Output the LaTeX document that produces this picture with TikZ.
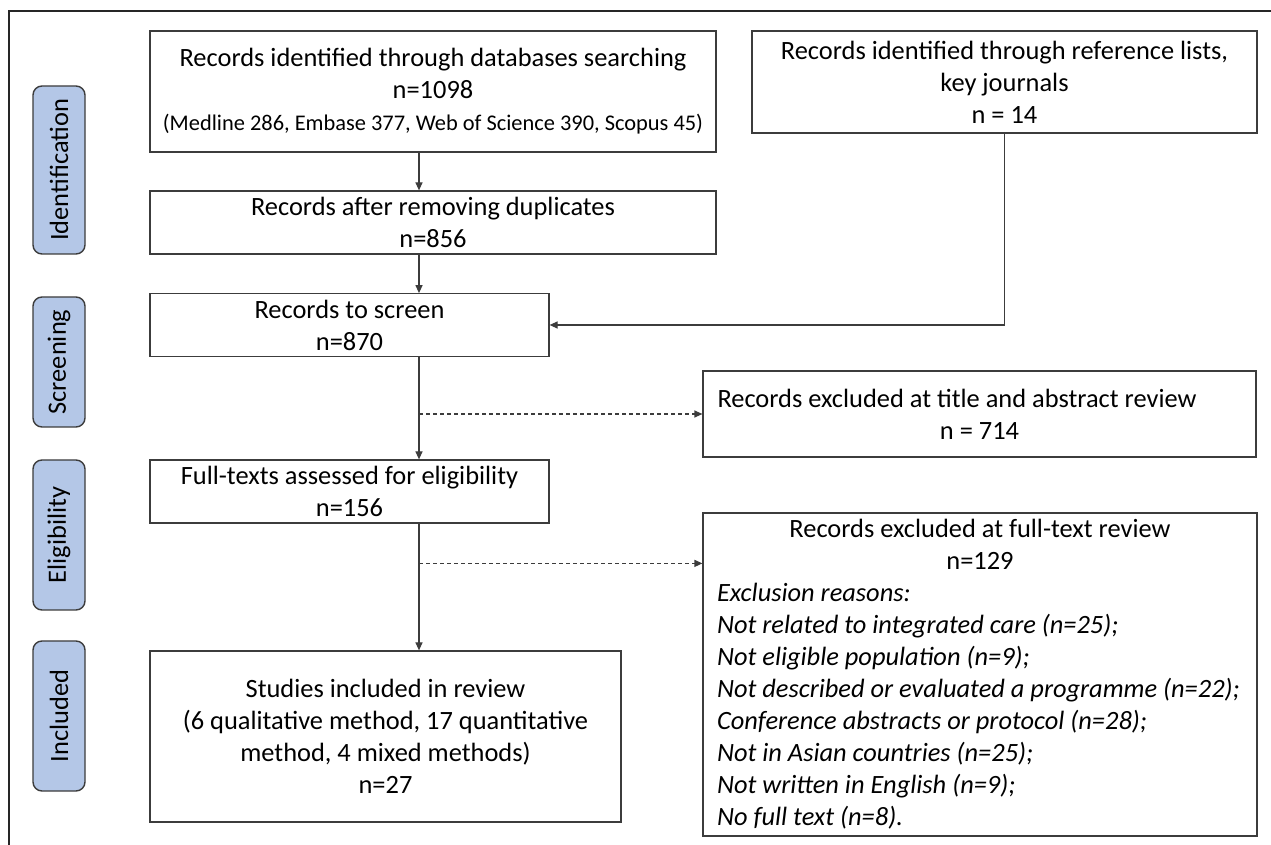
\documentclass[tikz,border=0pt]{standalone}
\usepackage{fontspec}
\setmainfont{Carlito}
\usetikzlibrary{arrows.meta}
\definecolor{stagefill}{HTML}{B4C7E7}
\definecolor{edgegray}{HTML}{3C3C3C}

\begin{document}
\begin{tikzpicture}[x=0.5pt,y=-0.5pt,
  box/.style={draw=edgegray, line width=0.6pt, align=center, inner sep=3pt,
    font=\fontsize{13.2}{16}\selectfont},
  stage/.style={draw=edgegray, line width=0.7pt, fill=stagefill, rounded corners=4.5pt,
    rotate=90, minimum height=26pt, inner sep=0pt, font=\fontsize{13.2}{16}\selectfont},
  flow/.style={draw=edgegray, line width=0.6pt, -{Triangle[length=4pt,width=3.5pt]}},
  skip/.style={flow, dash pattern=on 2pt off 1.5pt}]
\useasboundingbox (0,0) rectangle (1271,845);
\draw[line width=0.8pt, black!85] (9,845) -- (9,11) -- (1271,11);

\node[stage, minimum width=84pt] (identif) at (59,170) {Identification};
\node[stage, minimum width=65pt] (screening) at (59,362) {Screening};
\node[stage, minimum width=75pt] (eligib) at (59,535) {Eligibility};
\node[stage, minimum width=75pt] (incl) at (59,716) {Included};

\node[box, minimum width=283pt, minimum height=60.5pt] (dbsearch) at (433,91.5)
  {Records identified through databases searching\\ n=1098\\
   {\fontsize{11.2}{14}\selectfont (Medline 286, Embase 377, Web of Science 390, Scopus 45)}};
\node[box, minimum width=252.5pt, minimum height=51pt] (refsearch) at (1004.5,82)
  {Records identified through reference lists,\\ key journals\\ n = 14};
\node[box, minimum width=283pt, minimum height=31.5pt] (dedup) at (433,222.5)
  {Records after removing duplicates\\ n=856};
\node[box, minimum width=199.5pt, minimum height=28pt] (screen) at (349.5,325)
  {Records to screen\\ n=870};
\node[box, minimum width=276.5pt, minimum height=43pt, align=left,
  inner xsep=7pt] (absexcl) at (979.5,414)
  {Records excluded at title and abstract review\\ \makebox[262pt]{n = 714}};
\node[box, minimum width=199.5pt, minimum height=31.5pt] (fulltext) at (349.5,491.5)
  {Full-texts assessed for eligibility\\ n=156};
\node[box, minimum width=277pt, minimum height=161.5pt, align=left,
  inner xsep=7pt, inner ysep=2pt] (ftexcl) at (980,674.5)
  {\makebox[263pt]{Records excluded at full-text review}\\
   \makebox[263pt]{n=129}\\
   \textit{Exclusion reasons:}\\
   \textit{Not related to integrated care (n=25);}\\
   \textit{Not eligible population (n=9);}\\
   \textit{Not described or evaluated a programme (n=22);}\\
   \textit{Conference abstracts or protocol (n=28);}\\
   \textit{Not in Asian countries (n=25);}\\
   \textit{Not written in English (n=9);}\\
   \textit{No full text (n=8).}};
\node[box, minimum width=235.5pt, minimum height=85.5pt] (included) at (385.5,736.5)
  {Studies included in review\\ (6 qualitative method, 17 quantitative\\
   method, 4 mixed methods)\\ n=27};

\coordinate (spine) at (419,0);
\coordinate (ftin) at ([yshift=-25.5pt]ftexcl.north west);
\draw[flow] (dbsearch.south -| spine) -- (dedup.north -| spine);
\draw[flow] (dedup.south -| spine) -- (screen.north -| spine);
\draw[flow] (screen.south -| spine) -- (fulltext.north -| spine);
\draw[flow] (fulltext.south -| spine) -- (included.north -| spine);
\draw[flow] (refsearch.south) |- (screen.east);
\draw[skip] (absexcl.west -| spine) -- (absexcl.west);
\draw[skip] (ftin -| spine) -- (ftin);
\end{tikzpicture}
\end{document}
